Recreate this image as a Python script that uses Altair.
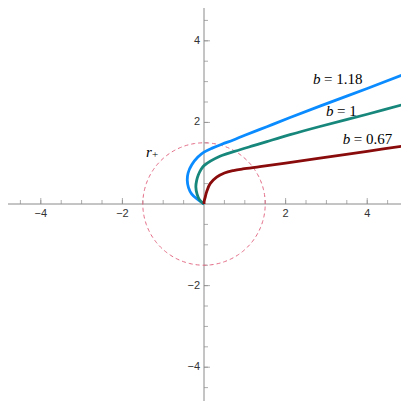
import altair as alt
import numpy as np
import pandas as pd

# ---- data ----
b_labels = ["1.18", "1", "0.67"]
series_colors = ["#0a8bff", "#17877c", "#8a0b0b"]

blue_x = [0, -0.14, -0.30, -0.38, -0.41, -0.39, -0.30, -0.15, 0.0, 0.20, 0.45, 0.72, 1.0, 1.54, 2.11, 2.84, 4.0, 5.0]
blue_y = [0, 0.10, 0.24, 0.40, 0.58, 0.76, 0.96, 1.15, 1.27, 1.37, 1.47, 1.57, 1.685, 1.895, 2.12, 2.40, 2.83, 3.22]

teal_x = [0, -0.11, -0.17, -0.20, -0.18, -0.14, -0.07, 0.0, 0.39, 0.88, 1.21, 1.54, 2.11, 2.84, 4.0, 5.0]
teal_y = [0, 0.10, 0.24, 0.42, 0.58, 0.71, 0.85, 0.94, 1.17, 1.33, 1.43, 1.53, 1.70, 1.90, 2.20, 2.47]

red_x = [0, 0.005, 0.025, 0.065, 0.15, 0.31, 0.50, 0.72, 0.95, 1.37, 2.0, 2.84, 4.0, 5.0]
red_y = [0, 0.07, 0.15, 0.30, 0.50, 0.66, 0.76, 0.82, 0.86, 0.915, 1.00, 1.125, 1.29, 1.44]

r_plus = 1.5

label_x = [2.67, 2.99, 3.40]
label_y = [3.06, 2.28, 1.59]

minor_ticks = [-4.5, -4, -3.5, -3, -2.5, -2, -1.5, -1, -0.5, 0.5, 1, 1.5, 2, 2.5, 3, 3.5, 4, 4.5]
major_ticks = [-4, -2, 2, 4]
major_labels = ["\u22124", "\u22122", "2", "4"]

# ---- tables ----
rows = []
for name, xs, ys in [(b_labels[0], blue_x, blue_y), (b_labels[1], teal_x, teal_y), (b_labels[2], red_x, red_y)]:
    for i, (xv, yv) in enumerate(zip(xs, ys)):
        rows.append({"b": name, "x": xv, "y": yv, "i": i})
curves = pd.DataFrame(rows)

ang = np.linspace(0, 2 * np.pi, 241)
circle = pd.DataFrame({"x": r_plus * np.cos(ang), "y": r_plus * np.sin(ang), "i": np.arange(len(ang))})

labels = pd.DataFrame({"x": label_x, "y": label_y, "b": ["b"] * 3, "rest": ["= " + s for s in b_labels]})
ticks_minor = pd.DataFrame({"v": minor_ticks, "z": [0] * len(minor_ticks)})
ticks_major = pd.DataFrame({"v": major_ticks, "t": major_labels, "z": [0] * len(major_ticks)})
rlab = pd.DataFrame({"x": [-1.42], "y": [1.28], "r": ["r"], "p": ["+"]})
origin = pd.DataFrame({"z": [0]})

W = 393
XS = alt.Scale(domain=[-4.804, 4.828], nice=False, zero=False)
YS = alt.Scale(domain=[-4.828, 4.804], nice=False, zero=False)
AX = "#8a8a8a"
LBL = "#333333"
SERIF = "Liberation Serif, Times New Roman, Times, serif"
SANS = "Liberation Sans, Arial, Helvetica, sans-serif"

def X(f):
    return alt.X(f, type="quantitative", scale=XS, axis=None)

def Y(f):
    return alt.Y(f, type="quantitative", scale=YS, axis=None)

xaxis = alt.Chart(origin).mark_rule(color=AX, strokeWidth=1).encode(
    y=Y("z"), x=alt.value(0), x2=alt.value(W))
yaxis = alt.Chart(origin).mark_rule(color=AX, strokeWidth=1).encode(
    x=X("z"), y=alt.value(0), y2=alt.value(W))

xt_minor = alt.Chart(ticks_minor).mark_tick(orient="vertical", size=4, thickness=1, yOffset=-2, color=AX).encode(
    x=X("v"), y=Y("z"))
xt_major = alt.Chart(ticks_major).mark_tick(orient="vertical", size=6, thickness=1, yOffset=-3, color=AX).encode(
    x=X("v"), y=Y("z"))
yt_minor = alt.Chart(ticks_minor).mark_tick(orient="horizontal", size=4, thickness=1, xOffset=2, color=AX).encode(
    y=Y("v"), x=X("z"))
yt_major = alt.Chart(ticks_major).mark_tick(orient="horizontal", size=6, thickness=1, xOffset=3, color=AX).encode(
    y=Y("v"), x=X("z"))

xl = alt.Chart(ticks_major).mark_text(dy=9.5, font=SANS, fontSize=11, color=LBL).encode(
    x=X("v"), y=Y("z"), text="t:N")
yl = alt.Chart(ticks_major).mark_text(align="right", dx=-4, font=SANS, fontSize=11, color=LBL).encode(
    y=Y("v"), x=X("z"), text="t:N")

circ = alt.Chart(circle).mark_line(color="#e36b86", strokeWidth=1, strokeDash=[4, 3]).encode(
    x=X("x"), y=Y("y"), order="i:Q")

lines = alt.Chart(curves).mark_line(strokeWidth=2.8, interpolate="catmull-rom", clip=True).encode(
    x=X("x"), y=Y("y"),
    order="i:Q",
    color=alt.Color("b:N", scale=alt.Scale(domain=b_labels, range=series_colors), legend=None),
    detail="b:N")

lab_b = alt.Chart(labels).mark_text(align="left", baseline="middle", font=SERIF, fontSize=15,
                                    fontStyle="italic", color="black").encode(
    x=X("x"), y=Y("y"), text="b:N")
lab_rest = alt.Chart(labels).mark_text(align="left", baseline="middle", font=SERIF, fontSize=15,
                                       dx=11, color="black").encode(
    x=X("x"), y=Y("y"), text="rest:N")

r_txt = alt.Chart(rlab).mark_text(align="left", baseline="middle", font=SERIF, fontSize=15,
                                  fontStyle="italic", color="black").encode(
    x=X("x"), y=Y("y"), text="r:N")
p_txt = alt.Chart(rlab).mark_text(align="left", baseline="middle", font=SERIF, fontSize=11,
                                  dx=6, dy=3.6, color="black").encode(
    x=X("x"), y=Y("y"), text="p:N")

chart = alt.layer(
    xaxis, yaxis, xt_minor, xt_major, yt_minor, yt_major, xl, yl, circ, lines, lab_b, lab_rest, r_txt, p_txt
).properties(
    width=W, height=W, autosize=alt.AutoSizeParams(type="none"), padding=0
).configure_view(strokeWidth=0)

chart.save("out.html", embed_options={"renderer": "svg", "actions": False})
